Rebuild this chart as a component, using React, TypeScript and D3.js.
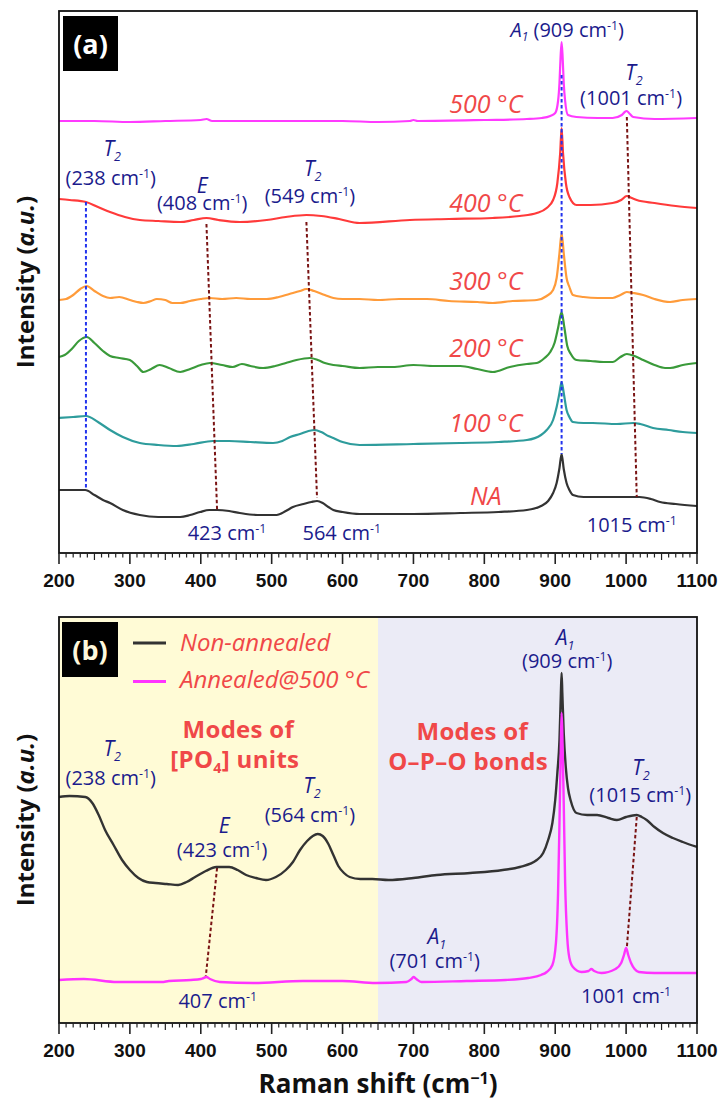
import React from 'react';
import * as d3 from 'd3';

// ---------- data (Raman shift cm^-1, intensity a.u.) ----------
const X_TICKS = [200, 300, 400, 500, 600, 700, 800, 900, 1000, 1100];

// Panel (a) spectra
const NA_A: [number, number][] = [[200,63],[220,63],[237,63],[250,58],[262,53],[272,50],[290,43],[314,38],[340,36],[371,36],[385,38],[399,41],[412,43],[423,43],[440,42],[455,40],[480,38],[507,38],[520,42],[530,46],[545,49],[556,51],[564,52],[572,50],[580,46],[587,43],[600,41],[624,39],[700,39],[766,40],[820,41],[860,43],[880,47],[890,52],[897,60],[902,70],[906,85],[909,99],[912,84],[916,70],[920,63],[925,58],[940,56],[953,56],[980,56],[1001,56],[1019,56],[1035,54],[1048,51],[1070,49],[1100,47]];
const T100_A: [number, number][] = [[200,135],[220,136],[238,137],[255,131],[272,123],[290,116],[314,110],[340,108],[366,107],[390,109],[417,112],[440,112],[470,111],[502,110],[515,112],[526,116],[540,119],[552,122],[561,123],[570,121],[580,117],[587,115],[600,111],[624,108],[700,109],[766,110],[820,111],[860,113],[880,118],[888,123],[897,133],[902,146],[906,160],[909,171],[912,160],[916,143],[920,136],[925,131],[940,130],[953,130],[987,129],[1010,130],[1020,129],[1038,125],[1060,123],[1080,121],[1100,120]];
const T200_A: [number, number][] = [[200,196],[208,198],[218,204],[228,212],[239,216],[250,210],[262,202],[272,197],[285,195],[300,193],[310,187],[319,181],[330,184],[342,188],[355,185],[371,181],[385,184],[400,188],[413,190],[430,188],[445,186],[458,189],[470,187],[488,185],[505,187],[520,190],[535,193],[554,195],[565,193],[575,190],[587,188],[600,187],[624,185],[650,186],[671,186],[700,188],[730,187],[766,187],[790,184],[812,181],[836,186],[860,189],[874,190],[885,195],[893,201],[899,210],[904,225],[909,241],[913,225],[917,207],[922,199],[930,193],[950,192],[968,191],[981,191],[992,196],[1001,199],[1012,197],[1024,193],[1040,188],[1055,185],[1062,185],[1080,188],[1100,190]];
const T300_A: [number, number][] = [[200,253],[210,254],[220,258],[230,264],[239,267],[250,262],[262,257],[272,255],[285,256],[300,253],[310,251],[319,250],[330,252],[338,254],[350,253],[360,250],[371,250],[385,252],[400,254],[413,255],[430,254],[450,255],[470,254],[493,254],[510,256],[525,259],[540,262],[549,264],[560,262],[575,258],[587,255],[600,254],[624,254],[650,253],[680,254],[719,254],[750,252],[790,251],[812,250],[840,252],[874,253],[888,257],[897,263],[902,275],[906,300],[909,320],[912,300],[916,275],[920,266],[925,258],[940,256],[960,255],[981,255],[992,258],[1001,261],[1010,260],[1024,258],[1040,254],[1062,251],[1080,253],[1100,254]];
const T400_A: [number, number][] = [[200,354],[215,353],[238,351],[255,346],[272,341],[293,336],[314,333],[340,332],[371,331],[390,333],[408,335],[425,333],[455,331],[493,333],[520,336],[549,338],[570,337],[595,334],[624,330],[695,333],[750,334],[812,335],[850,337],[874,340],[888,345],[897,353],[903,370],[907,400],[909,425],[911,400],[915,370],[920,356],[930,348],[950,348],[981,350],[993,353],[1001,357],[1008,355],[1015,353],[1040,350],[1070,347],[1100,345]];
const T500_A: [number, number][] = [[200,432],[250,432],[300,431],[350,432],[400,433],[408,434],[416,432],[500,432],[600,432],[650,431],[695,432],[700,433],[706,432],[800,433],[860,434],[881,435],[893,437],[900,440],[904,452],[906,470],[907.5,495],[909,511],[910.5,495],[912,470],[914,452],[918,438],[930,436],[960,435],[981,435],[994,438],[998,441],[1001,442],[1004,440],[1010,436],[1040,434],[1100,435]];

const SERIES_A_NAMES = ['NA', '100 °C', '200 °C', '300 °C', '400 °C', '500 °C'];
const SERIES_A_COLORS = ['#333333', '#2e9c9c', '#3a9a3a', '#ff9b3a', '#ff3a3a', '#ff3aff'];
const SERIES_A = [NA_A, T100_A, T200_A, T300_A, T400_A, T500_A];
const LABEL_A_X = 802;
const LABEL_A_V = [48, 121, 196, 263, 341, 440];

// Panel (b) spectra
const NA_B: [number, number][] = [[200,226],[215,227],[237,226],[247,220],[256,208],[265,193],[277,178],[289,163],[300,153],[312,145],[324,141],[336,140],[352,139],[368,138],[380,141],[392,146],[407,152],[422,156],[440,156],[452,153],[464,148],[478,145],[492,143],[506,146],[520,153],[530,161],[540,173],[550,182],[558,187],[565,189],[572,187],[580,179],[587,168],[594,157],[602,150],[610,146],[625,144],[642,144],[665,143],[700,145],[733,148],[780,150],[826,153],[850,156],[874,163],[883,170],[890,183],[896,200],[900,223],[903,250],[906,283],[908,330],[909,350],[910,330],[912,290],[915,255],[918,235],[922,222],[930,210],[945,208],[959,208],[975,205],[987,203],[1000,206],[1015,208],[1022,206],[1029,203],[1040,196],[1052,190],[1066,185],[1080,181],[1100,176]];
const A500_B: [number, number][] = [[200,43],[235,44],[282,41],[345,41],[355,42],[386,43],[400,44],[404,45],[408,46],[413,44],[427,41],[474,40],[544,42],[600,42],[647,40],[690,41],[697,44],[700,46],[704,44],[711,41],[775,42],[830,43],[862,45],[880,48],[888,51],[896,58],[901,80],[904,130],[906,200],[908,280],[909,310],[910,290],[912,220],[914,140],[917,85],[920,65],[925,56],[937,51],[947,52],[951,54],[955,52],[965,50],[985,54],[993,60],[997,68],[1000,75],[1003,68],[1007,60],[1012,54],[1018,51],[1040,50],[1065,50],[1100,50]];
const LEGEND_B = ['Non-annealed', 'Annealed@500 °C'];
const COLORS_B = ['#333333', '#ff33ff'];
const REGION_SPLIT = 650;

// dashed guide lines: [x1, v1, x2, v2]
const GUIDES_A_BLUE: number[][] = [[238, 351, 238, 63], [909, 478, 909, 99]];
const GUIDES_A_RED: number[][] = [[408, 329, 423, 43], [549, 331, 564, 55], [1001, 436, 1015, 56]];
const GUIDES_B_RED: number[][] = [[423, 155, 407, 46], [1015, 206, 1001, 75]];

// annotations: [text, x (cm-1), v, kind]  kind: 'mode' (italic symbol) | 'val'
const ANN_A: [string, number, number, string][] = [
  ['*T*_{2}', 275, 397, 'mode'], ['(238 cm^{-1})', 273, 368, 'val'],
  ['*E*', 402, 360, 'mode'], ['(408 cm^{-1})', 402, 343, 'val'],
  ['*T*_{2}', 558, 377, 'mode'], ['(549 cm^{-1})', 554, 350, 'val'],
  ['*A*_{1} (909 cm^{-1})', 917, 516, 'val'],
  ['*T*_{2}', 1011, 473, 'mode'], ['(1001 cm^{-1})', 1007, 448, 'val'],
  ['423 cm^{-1}', 437, 13, 'val'], ['564 cm^{-1}', 599, 13, 'val'], ['1015 cm^{-1}', 1008, 21, 'val'],
];
const ANN_B: [string, number, number, string][] = [
  ['*T*_{2}', 275, 267, 'mode'], ['(238 cm^{-1})', 273, 238, 'val'],
  ['*E*', 433, 190, 'mode'], ['(423 cm^{-1})', 430, 166, 'val'],
  ['*T*_{2}', 557, 230, 'mode'], ['(564 cm^{-1})', 554, 201, 'val'],
  ['*A*_{1}', 914, 378, 'mode'], ['(909 cm^{-1})', 917, 355, 'val'],
  ['*T*_{2}', 1021, 248, 'mode'], ['(1015 cm^{-1})', 1020, 221, 'val'],
  ['*A*_{1}', 733, 79, 'mode'], ['(701 cm^{-1})', 730, 55, 'val'],
  ['407 cm^{-1}', 424, 15, 'val'], ['1001 cm^{-1}', 1000, 20, 'val'],
];
const REGION_LABELS_B: [string, number, number][] = [
  ['Modes of', 453, 285], ['[PO_n{4}] units', 448, 255],
  ['Modes of', 783, 283], ['O–P–O bonds', 777, 253],
];

// ---------- layout ----------
const W = 723, H = 1104;
const L = 59, R = 697;
const A_TOP = 11, A_BOT = 553;
const B_TOP = 617, B_BOT = 1023;
const FONT = '"Open Sans", "Noto Sans", sans-serif';
const NAVY = '#1b1b8c';
const LABEL_RED = '#f04848';

const x = d3.scaleLinear().domain([200, 1100]).range([L, R]);
const yA = d3.scaleLinear().domain([0, A_BOT - A_TOP]).range([A_BOT, A_TOP]);
const yB = d3.scaleLinear().domain([0, B_BOT - B_TOP]).range([B_BOT, B_TOP]);

function rich(text: string, size: number, baseItalic = false) {
  const parts = text.split(/(\^\{[^}]*\}|_n?\{[^}]*\}|\*[^*]*\*)/).filter((s) => s !== '');
  let shift = 0;
  const out: any[] = [];
  parts.forEach((p, i) => {
    if (p.startsWith('^{')) {
      const s = -size * 0.36;
      out.push(<tspan key={i} dy={s - shift} fontSize={size * 0.62}>{p.slice(2, -1)}</tspan>);
      shift = s;
    } else if (p.startsWith('_n{') || p.startsWith('_{')) {
      const s = size * 0.22;
      const it = !p.startsWith('_n{');
      out.push(<tspan key={i} dy={s - shift} fontSize={size * 0.6} fontStyle={it ? 'italic' : undefined}>{p.slice(p.indexOf('{') + 1, -1)}</tspan>);
      shift = s;
    } else if (p.startsWith('*')) {
      out.push(<tspan key={i} dy={-shift} fontStyle="italic">{p.slice(1, -1)}</tspan>);
      shift = 0;
    } else {
      out.push(<tspan key={i} dy={-shift} fontStyle={baseItalic ? 'italic' : undefined}>{p}</tspan>);
      shift = 0;
    }
  });
  return out;
}

const line = d3.line<[number, number]>().curve(d3.curveMonotoneX);

function Axis({ y0 }: { y0: number }) {
  const minor = d3.range(200, 1101, 10).filter((v) => v % 100 !== 0);
  return (
    <g>
      {minor.map((v) => (
        <line key={v} x1={x(v)} x2={x(v)} y1={y0} y2={y0 + (v % 50 === 0 ? 7 : 4.5)} stroke="#222" strokeWidth={1.2} />
      ))}
      {X_TICKS.map((v) => (
        <g key={v}>
          <line x1={x(v)} x2={x(v)} y1={y0} y2={y0 + 11} stroke="#222" strokeWidth={1.6} />
          <text x={x(v)} y={y0 + 34} textAnchor="middle" fontFamily='"Liberation Sans", Arial, sans-serif' fontWeight="bold" fontSize={19} fill="#111">{v}</text>
        </g>
      ))}
    </g>
  );
}

function YLabel({ cy }: { cy: number }) {
  return (
    <text transform={`translate(34,${cy}) rotate(-90)`} textAnchor="middle" fontFamily={FONT} fontWeight="bold" fontSize={24} fill="#111">
      <tspan>Intensity (</tspan><tspan fontStyle="italic">a.u.</tspan><tspan>)</tspan>
    </text>
  );
}

function Guides({ data, color, ys }: { data: number[][]; color: string; ys: any }) {
  return (
    <g>
      {data.map((d, i) => (
        <line key={i} x1={x(d[0])} y1={ys(d[1])} x2={x(d[2])} y2={ys(d[3])} stroke={color} strokeWidth={2} strokeDasharray="3.5,2.5" />
      ))}
    </g>
  );
}

function Ann({ data, ys }: { data: [string, number, number, string][]; ys: any }) {
  return (
    <g>
      {data.map((d, i) => {
        const size = d[3] === 'mode' ? 21 : 20;
        return (
          <text key={i} x={x(d[1])} y={ys(d[2])} textAnchor="middle" fontFamily={FONT} fontSize={size} fill={NAVY}>
            {rich(d[0], size)}
          </text>
        );
      })}
    </g>
  );
}

export default function App() {
  const pathA = (s: [number, number][]) => line(s.map((p) => [x(p[0]), yA(p[1])]) as [number, number][]) || '';
  const pathB = (s: [number, number][]) => line(s.map((p) => [x(p[0]), yB(p[1])]) as [number, number][]) || '';
  return (
    <svg width={W} height={H} viewBox={`0 0 ${W} ${H}`} style={{ position: 'absolute', left: 0, top: 0, display: 'block', background: '#fff' }}>
      {/* ---------- panel (a) ---------- */}
      <rect x={L} y={A_TOP} width={R - L} height={A_BOT - A_TOP} fill="#fff" />
      {SERIES_A.map((s, i) => (
        <path key={i} d={pathA(s)} fill="none" stroke={SERIES_A_COLORS[i]} strokeWidth={2.2} strokeLinejoin="round" />
      ))}
      <Guides data={GUIDES_A_BLUE} color="#2233ee" ys={yA} />
      <Guides data={GUIDES_A_RED} color="#7a1414" ys={yA} />
      {SERIES_A_NAMES.map((n, i) => (
        <text key={n} x={x(LABEL_A_X)} y={yA(LABEL_A_V[i])} textAnchor="middle" fontFamily={FONT} fontStyle="italic" fontSize={25} fill={LABEL_RED}>{n}</text>
      ))}
      <Ann data={ANN_A} ys={yA} />
      <rect x={63} y={16} width={55} height={55} fill="#000" />
      <text x={90.5} y={54} textAnchor="middle" fontFamily={FONT} fontWeight="bold" fontSize={27} fill="#fff">(a)</text>
      <rect x={L} y={A_TOP} width={R - L} height={A_BOT - A_TOP} fill="none" stroke="#111" strokeWidth={1.8} />
      <Axis y0={A_BOT} />
      <YLabel cy={(A_TOP + A_BOT) / 2} />

      {/* ---------- panel (b) ---------- */}
      <rect x={L} y={B_TOP} width={x(REGION_SPLIT) - L} height={B_BOT - B_TOP} fill="#fffbd6" />
      <rect x={x(REGION_SPLIT)} y={B_TOP} width={R - x(REGION_SPLIT)} height={B_BOT - B_TOP} fill="#ebebf6" />
      <Guides data={GUIDES_B_RED} color="#7a1414" ys={yB} />
      <path d={pathB(NA_B)} fill="none" stroke={COLORS_B[0]} strokeWidth={2.4} strokeLinejoin="round" />
      <path d={pathB(A500_B)} fill="none" stroke={COLORS_B[1]} strokeWidth={2.4} strokeLinejoin="round" />
      <Ann data={ANN_B} ys={yB} />
      {REGION_LABELS_B.map((d, i) => (
        <text key={i} x={x(d[1])} y={yB(d[2])} textAnchor="middle" fontFamily={FONT} fontWeight="bold" fontSize={24} letterSpacing={0.3} fill={LABEL_RED}>
          {rich(d[0], 24)}
        </text>
      ))}
      <rect x={62} y={622} width={56} height={55} fill="#000" />
      <text x={90} y={660} textAnchor="middle" fontFamily={FONT} fontWeight="bold" fontSize={27} fill="#fff8dc">(b)</text>
      {LEGEND_B.map((n, i) => (
        <g key={n}>
          <line x1={133} x2={166} y1={643 + i * 38.5} y2={643 + i * 38.5} stroke={COLORS_B[i]} strokeWidth={3} />
          <text x={180} y={651 + i * 37} fontFamily={FONT} fontStyle="italic" fontSize={24} fill={LABEL_RED}>{n}</text>
        </g>
      ))}
      <rect x={L} y={B_TOP} width={R - L} height={B_BOT - B_TOP} fill="none" stroke="#111" strokeWidth={1.8} />
      <Axis y0={B_BOT} />
      <YLabel cy={(B_TOP + B_BOT) / 2} />
      <text x={(L + R) / 2} y={1093} textAnchor="middle" fontFamily={FONT} fontWeight="bold" fontSize={26} fill="#111">
        {rich('Raman shift (cm^{−1})', 26)}
      </text>
    </svg>
  );
}
